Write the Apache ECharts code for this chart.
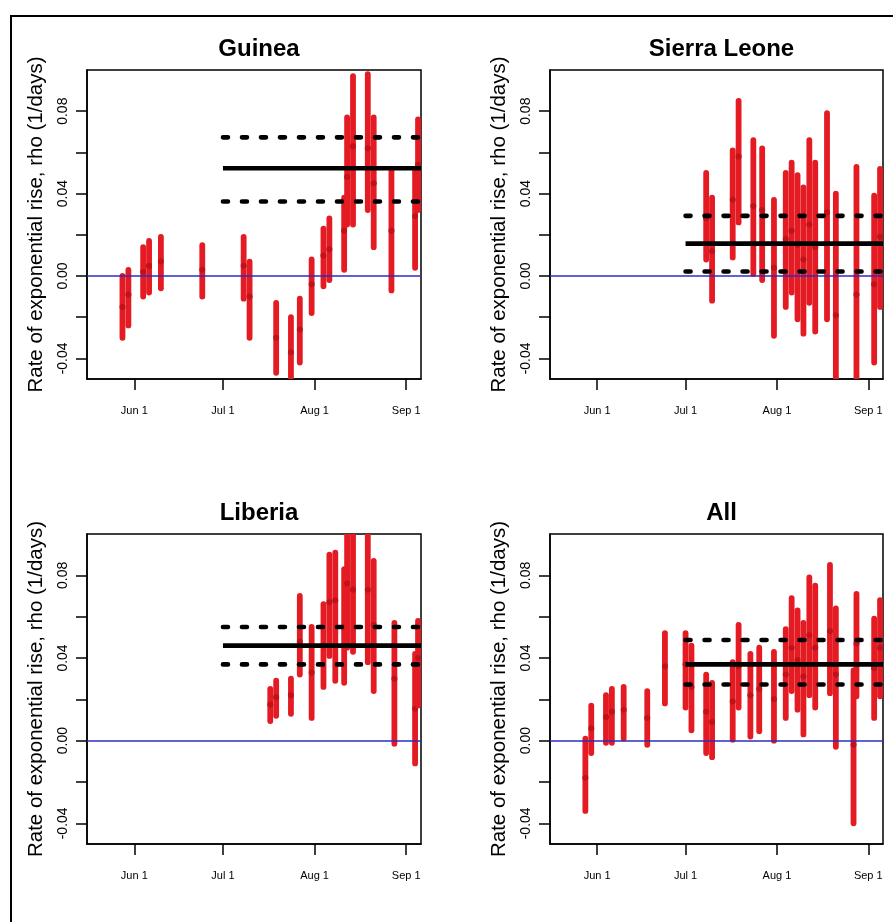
<!DOCTYPE html>
<html>
<head>
<meta charset="utf-8">
<script src="https://cdn.jsdelivr.net/npm/echarts@6/dist/echarts.min.js"></script>
<style>
  html, body { margin: 0; padding: 0; background: #fff; }
  #chart { width: 893px; height: 922px; }
</style>
</head>
<body>
<div id="chart"></div>
<script>
// estimates of rho with interval, dates 2014 (MM-DD)
const guineaDates = ['05-28', '05-30', '06-04', '06-06', '06-10', '06-24', '07-08', '07-10', '07-19', '07-24', '07-27',
  '07-31', '08-04', '08-06', '08-11', '08-12', '08-14', '08-19', '08-21', '08-27', '09-04', '09-05']
const guineaLow = [-0.030, -0.024, -0.010, -0.008, -0.006, -0.010, -0.011, -0.030, -0.047, -0.056, -0.042,
  -0.018, -0.005, -0.002, 0.003, 0.025, 0.025, 0.032, 0.014, -0.007, 0.004, 0.032]
const guineaMid = [-0.015, -0.009, 0.002, 0.005, 0.007, 0.003, 0.005, -0.010, -0.030, -0.037, -0.026,
  -0.004, 0.010, 0.013, 0.022, 0.048, 0.063, 0.062, 0.045, 0.022, 0.029, 0.054]
const guineaHigh = [0.000, 0.003, 0.014, 0.017, 0.019, 0.015, 0.019, 0.007, -0.013, -0.020, -0.011,
  0.008, 0.023, 0.028, 0.038, 0.077, 0.097, 0.098, 0.077, 0.051, 0.052, 0.076]

const sierraDates = ['07-08', '07-10', '07-17', '07-19', '07-24', '07-27', '07-31', '08-04', '08-06', '08-08',
  '08-10', '08-12', '08-14', '08-18', '08-21', '08-28', '09-03', '09-05']
const sierraLow = [0.008, -0.012, 0.009, 0.026, 0.001, -0.002, -0.029, -0.015, -0.008, -0.021,
  -0.028, -0.013, -0.027, -0.021, -0.058, -0.058, -0.042, -0.015]
const sierraMid = [0.028, 0.012, 0.037, 0.058, 0.034, 0.032, 0.004, 0.018, 0.022, 0.015,
  0.008, 0.025, 0.014, 0.031, -0.019, -0.009, -0.004, 0.019]
const sierraHigh = [0.050, 0.038, 0.061, 0.085, 0.066, 0.062, 0.037, 0.050, 0.055, 0.049,
  0.043, 0.066, 0.055, 0.079, 0.040, 0.053, 0.039, 0.052]

const liberiaDates = ['07-17', '07-19', '07-24', '07-27', '07-31', '08-04', '08-06', '08-08', '08-11', '08-12',
  '08-14', '08-19', '08-21', '08-28', '09-04', '09-05']
const liberiaLow = [0.0095, 0.012, 0.013, 0.032, 0.011, 0.026, 0.041, 0.029, 0.028, 0.045,
  0.043, 0.038, 0.024, -0.0015, -0.011, 0.017]
const liberiaMid = [0.0175, 0.021, 0.022, 0.048, 0.033, 0.046, 0.067, 0.068, 0.055, 0.076,
  0.073, 0.073, 0.056, 0.030, 0.0155, 0.040]
const liberiaHigh = [0.025, 0.029, 0.030, 0.070, 0.055, 0.066, 0.090, 0.091, 0.083, 0.108,
  0.108, 0.100, 0.087, 0.057, 0.042, 0.058]

const allDates = ['05-28', '05-30', '06-04', '06-06', '06-10', '06-18', '06-24', '07-01', '07-03', '07-08',
  '07-10', '07-17', '07-19', '07-23', '07-26', '07-31', '08-04', '08-06', '08-08', '08-10',
  '08-12', '08-14', '08-19', '08-21', '08-27', '08-28', '09-03', '09-05']
const allLow = [-0.034, -0.006, -0.001, -0.001, 0.001, -0.002, 0.018, 0.016, 0.005, -0.006,
  -0.008, 0.0005, 0.016, 0.002, 0.0045, 0.000, 0.011, 0.024, 0.015, 0.003,
  0.022, 0.016, 0.023, -0.003, -0.040, 0.0215, 0.011, 0.0215]
const allMid = [-0.018, 0.006, 0.0115, 0.014, 0.015, 0.011, 0.036, 0.037, 0.026, 0.014,
  0.009, 0.019, 0.036, 0.022, 0.025, 0.020, 0.032, 0.045, 0.039, 0.031,
  0.051, 0.045, 0.053, 0.032, -0.002, 0.047, 0.035, 0.045]
const allHigh = [0.001, 0.017, 0.022, 0.025, 0.026, 0.024, 0.052, 0.052, 0.046, 0.032,
  0.028, 0.038, 0.056, 0.042, 0.045, 0.043, 0.054, 0.069, 0.063, 0.057,
  0.079, 0.075, 0.085, 0.064, 0.034, 0.071, 0.059, 0.068]

// fitted rho (solid) and its interval (dashed), fitted from Jul 1
const panelTitles = ['Guinea', 'Sierra Leone', 'Liberia', 'All']
const fitLow = [0.0362, 0.0022, 0.0369, 0.0272]
const fitMid = [0.0523, 0.0157, 0.0460, 0.0369]
const fitHigh = [0.0673, 0.0292, 0.0550, 0.0487]
const fitStart = '07-01'

// axes
const xStart = '05-16'
const xEnd = '09-06'
const xTickDates = ['06-01', '07-01', '08-01', '09-01']
const xTickLabels = ['Jun 1', 'Jul 1', 'Aug 1', 'Sep 1']
const yTicks = [-0.04, -0.02, 0, 0.02, 0.04, 0.06, 0.08]
const yLabels = [-0.04, 0, 0.04, 0.08]
const yName = 'Rate of exponential rise, rho (1/days)'

// days counted from Jun 1
function day (md) {
  const p = md.split('-')
  return (Date.UTC(2014, +p[0] - 1, +p[1]) - Date.UTC(2014, 5, 1)) / 86400000
}

const FONT = 'Liberation Sans'
const RED = '#e41b22'
const grids = [
  { left: 87, top: 70, width: 334, height: 309 },
  { left: 550, top: 70, width: 333, height: 309 },
  { left: 87, top: 534, width: 334, height: 310 },
  { left: 550, top: 534, width: 333, height: 310 }
]
const panels = [
  [guineaDates, guineaLow, guineaMid, guineaHigh],
  [sierraDates, sierraLow, sierraMid, sierraHigh],
  [liberiaDates, liberiaLow, liberiaMid, liberiaHigh],
  [allDates, allLow, allMid, allHigh]
]

function renderBar (params, api) {
  const x = api.value(0)
  const lo = api.coord([x, api.value(1)])
  const mid = api.coord([x, api.value(2)])
  const hi = api.coord([x, api.value(3)])
  return {
    type: 'group',
    children: [
      {
        type: 'line',
        shape: { x1: lo[0], y1: lo[1], x2: hi[0], y2: hi[1] },
        style: { stroke: RED, lineWidth: 5.8, lineCap: 'round' }
      },
      {
        type: 'circle',
        shape: { cx: mid[0], cy: mid[1], r: 3 },
        style: { fill: '#c0121a' }
      }
    ]
  }
}

const xAxis = []
const yAxis = []
const series = []
const title = []

grids.forEach((g, i) => {
  title.push({
    text: panelTitles[i],
    left: g.left + g.width / 2,
    top: g.top - 38,
    textAlign: 'center',
    textStyle: { fontFamily: FONT, fontWeight: 'bold', fontSize: 24, color: '#000' }
  })
  xAxis.push({
    type: 'value',
    gridIndex: i,
    min: day(xStart),
    max: day(xEnd),
    axisLine: { show: true, onZero: false, lineStyle: { color: '#000', width: 1.5 } },
    axisTick: { show: true, length: 11, customValues: xTickDates.map(day), lineStyle: { color: '#000', width: 1.5 } },
    axisLabel: {
      customValues: xTickDates.map(day),
      formatter: (v) => xTickLabels[xTickDates.map(day).indexOf(v)],
      margin: 26,
      fontFamily: FONT,
      fontSize: 11,
      color: '#000'
    },
    splitLine: { show: false }
  })
  yAxis.push({
    type: 'value',
    gridIndex: i,
    min: -0.05,
    max: 0.10,
    name: yName,
    nameLocation: 'middle',
    nameGap: 40,
    nameTextStyle: { fontFamily: FONT, fontSize: 20.5, color: '#000' },
    axisLine: { show: true, onZero: false, lineStyle: { color: '#000', width: 1.5 } },
    axisTick: { show: true, length: 11, customValues: yTicks, lineStyle: { color: '#000', width: 1.5 } },
    axisLabel: {
      customValues: yLabels,
      rotate: 90,
      margin: 17,
      formatter: (v) => v.toFixed(2),
      fontFamily: FONT,
      fontSize: 14,
      color: '#000'
    },
    splitLine: { show: false }
  })

  const p = panels[i]
  series.push({
    type: 'custom',
    xAxisIndex: i,
    yAxisIndex: i,
    clip: true,
    silent: true,
    renderItem: renderBar,
    data: p[0].map((d, k) => [day(d), p[1][k], p[2][k], p[3][k]]),
    z: 2
  })
  // zero line
  series.push({
    type: 'line',
    xAxisIndex: i,
    yAxisIndex: i,
    data: [],
    markLine: {
      silent: true,
      symbol: 'none',
      label: { show: false },
      lineStyle: { color: '#2c2cc0', width: 1.6, type: 'solid' },
      data: [{ yAxis: 0 }]
    },
    z: 3
  })
  // fitted rho and interval
  const fits = [[fitMid[i], 'solid', 'butt'], [fitLow[i], [5, 14], 'round'], [fitHigh[i], [5, 14], 'round']]
  fits.forEach(([v, dash, cap]) => {
    series.push({
      type: 'line',
      xAxisIndex: i,
      yAxisIndex: i,
      symbol: 'none',
      silent: true,
      clip: true,
      data: [[day(fitStart), v], [day(xEnd), v]],
      lineStyle: { color: '#000', width: 4.6, type: dash, cap },
      z: 4
    })
  })
})

const chart = echarts.init(document.getElementById('chart'), null, { renderer: 'canvas' })
chart.setOption({
  animation: false,
  backgroundColor: '#fff',
  title,
  grid: grids.map((g) => Object.assign({ show: true, borderColor: '#000', borderWidth: 1.5, backgroundColor: 'transparent' }, g)),
  xAxis,
  yAxis,
  series,
  graphic: [{
    type: 'rect',
    shape: { x: 11, y: 16, width: 1000, height: 1000 },
    style: { fill: 'none', stroke: '#000', lineWidth: 2 },
    silent: true
  }]
})
</script>
</body>
</html>
